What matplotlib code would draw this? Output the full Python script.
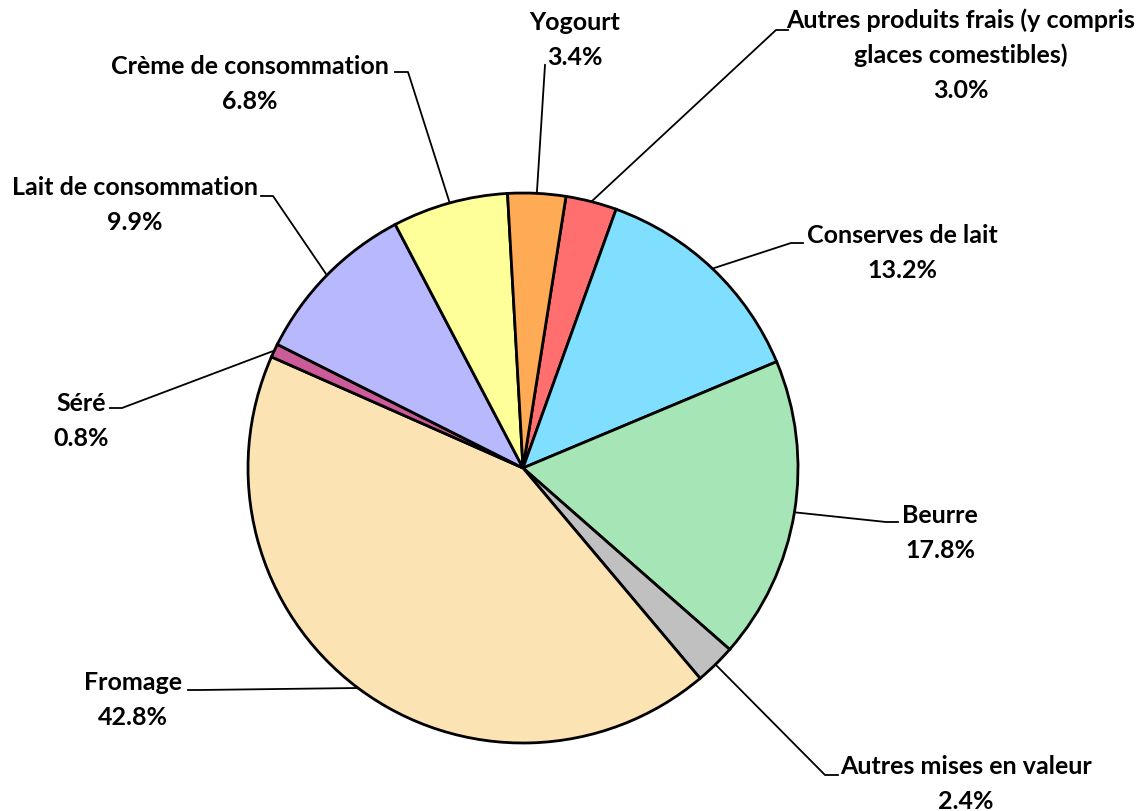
import matplotlib
matplotlib.use("Agg")
import matplotlib.pyplot as plt
import numpy as np

plt.rcParams['font.family'] = ['Lato', 'DejaVu Sans']

# clockwise order, starting with "Autres produits frais"
names = ["Autres produits frais (y compris\nglaces comestibles)", "Conserves de lait", "Beurre",
         "Autres mises en valeur", "Fromage", "Séré", "Lait de consommation",
         "Crème de consommation", "Yogourt"]
shares = [3.0, 13.2, 17.8, 2.4, 42.8, 0.8, 9.9, 6.8, 3.4]
colors = ["#FF6F6F", "#80DFFF", "#A6E5B5", "#C0C0C0", "#FBE3B4", "#CC5C99",
          "#B8B8FF", "#FFFF99", "#FFAA55"]

# layout in pixel coords (y from top)
W, H = 1143, 811
cx, cy, R = 523, 468, 275
start_deg = 9.0  # clockwise from 12 o'clock

lab_pos = [(961, 55), (902, 253), (940, 533), (966, 784), (133, 700), (81, 421),
           (135, 205), (250, 84), (575, 40)]
elbows = [[(776, 30), (788, 30)], [(791, 243), (803, 243)], [(886, 522), (898, 522)],
          [(825, 775), (838, 775)], [(200, 690), (188, 690)], [(122, 408), (110, 408)],
          [(273, 196), (261, 196)], [(408, 72), (395, 72)], [(545, 65)]]

fig = plt.figure(figsize=(W / 100, H / 100), dpi=100)
ax = fig.add_axes([0, 0, 1, 1])

ax.pie(shares, colors=colors, startangle=90 - start_deg, counterclock=False,
       center=(cx, H - cy), radius=R,
       wedgeprops=dict(edgecolor='black', linewidth=2))
ax.set_xlim(0, W)
ax.set_ylim(0, H)
ax.set_aspect('equal')
ax.axis('off')

tot = sum(shares)
cum = 0
for i, (nm, v) in enumerate(zip(names, shares)):
    mid = np.radians(start_deg + (cum + v / 2) / tot * 360)
    cum += v
    x0 = cx + R * np.sin(mid)
    y0 = cy - R * np.cos(mid)
    pts = [(x0, y0)] + elbows[i]
    ax.plot([p[0] for p in pts], [H - p[1] for p in pts], color='black', lw=1.3)
    lx, ly = lab_pos[i]
    ax.text(lx, H - ly, f"{nm}\n{v:.1f}%", ha='center', va='center',
            fontsize=18, fontweight='bold', linespacing=1.6, color='black')

fig.savefig("out.png", dpi=100)
